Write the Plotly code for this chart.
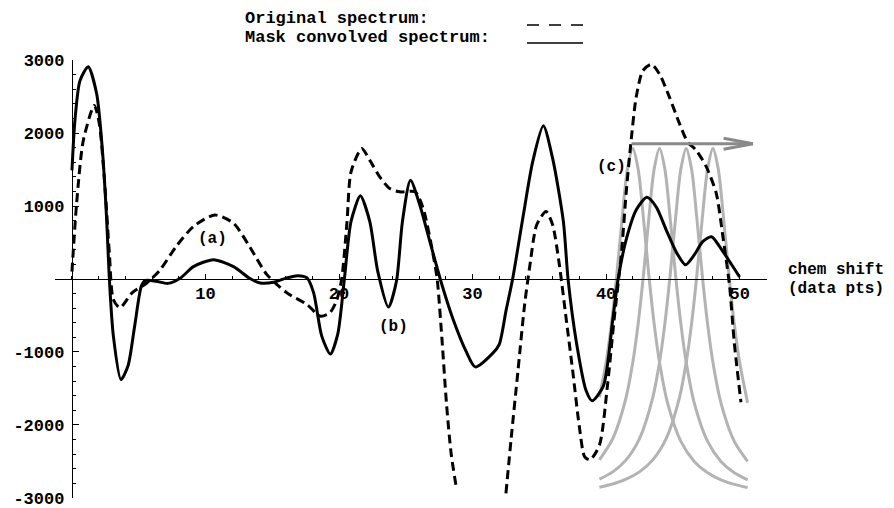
import plotly.graph_objects as go

# ---- data -------------------------------------------------------------
# mask convolved spectrum (solid black)
conv_x = [0, 0.22, 0.6, 1.22, 1.85, 2.3, 2.6, 2.8, 3.1, 3.67, 4.2, 4.7, 5.2, 5.5,
          6.3, 7.2, 8.1, 9.1, 10.6, 12.1, 13.3, 14.1, 15.1, 16.1, 16.9, 17.6,
          18.1, 18.7, 19.35, 19.9, 20.4, 20.9, 21.6, 22.3, 22.9, 23.7, 24.3,
          24.75, 25.35, 26.05, 26.8, 27.7, 28.5, 29.5, 30.2, 31.5, 32.0, 32.5,
          33.0, 33.8, 34.5, 35.3, 36.0, 36.8, 37.15, 37.8, 38.5, 38.95, 39.8,
          40.5, 40.9, 41.5, 42.25, 43.05, 43.75, 44.5, 45.3, 45.95, 46.6,
          47.25, 47.9, 48.5, 49.25, 50.0]
conv_y = [1490, 2170, 2720, 2910, 2540, 1720, 810, 0, -780, -1380, -1190, -640,
          -95, -20, -30, -60, 10, 170, 265, 170, 10, -55, -45, 15, 45, 15,
          -190, -780, -1030, -760, 0, 790, 1140, 790, 105, -385, -30,
          790, 1355, 1015, 515, -75, -530, -985, -1205, -1020, -895, -440,
          0, 875, 1605, 2100, 1650, 790, 0, -895, -1530, -1670, -1465,
          -555, 0, 535, 945, 1120, 990, 675, 355, 195, 330,
          515, 580, 445, 240, 27]

# original spectrum (dashed black); None = runs off the bottom of the frame
orig_x = [0, 0.35, 0.85, 1.67, 2.05, 2.47, 2.8, 3.1, 3.6, 4.5, 5.6, 6.6, 7.8,
          9.1, 10.7, 12.1, 13.3, 14.6, 16.1, 17.6, 18.6, 19.3, 19.8, 20.2,
          20.6, 20.9, 21.7, 22.3, 23.05, 23.8, 24.55, 25.7, 26.3, 27.05,
          27.35, 27.7, 28.05, 28.4, 28.8, None, 32.5, 32.9, 33.4, 33.9, 34.3,
          34.8, 35.5, 36.0, 36.5, 37.0, 37.5, 38.0, 38.4, 38.8, 39.5, 40.1,
          40.6, 41.15, 41.5, 41.85, 42.25, 42.75, 43.4, 44.0, 44.75, 45.5,
          46.1, 46.75, 47.5, 48.25, 48.75, 49.25, 49.6, 50.1]
orig_y = [100, 1040, 1900, 2380, 2130, 1265, 355, -280, -395, -190, -55, 125,
          445, 720, 877, 765, 445, 60, -190, -350, -510, -465, -305, 0,
          790, 1470, 1790, 1630, 1400, 1240, 1195, 1195, 970, 330,
          0, -805, -1715, -2400, -2875, None, -2940, -2170, -1260, -350, 195,
          740, 925, 740, 195, -530, -1260, -2030, -2440, -2480, -2280, -1465,
          -555, 355, 1175, 1855, 2490, 2855, 2945, 2810, 2490, 2130,
          1880, 1765, 1540, 1175, 580, -100, -875, -1690]

# mask line shape (offset from its centre -> value), shifted along the axis
mask_offsets = [-8.5, -7.5, -6.5, -5.5, -4.5, -3.5, -2.5, -2.0, -1.6, -1.2,
                -0.8, -0.4, 0, 0.4, 0.8, 1.2, 1.6, 2.0, 2.6, 3.6, 4.6, 5.6,
                6.6, 7.6, 8.6]
mask_values = [-2855, -2811, -2745, -2645, -2480, -2189, -1622, -1143, -615, 58,
               828, 1507, 1790, 1507, 828, 58, -615, -1143, -1699, -2227,
               -2501, -2657, -2753, -2816, -2859]
mask_centers = [42, 44, 46, 48]
mask_span = (39.5, 50.6)

# arrow showing the mask being slid along the spectrum
arrow_x_start, arrow_x_end, arrow_y = 41.9, 51.0, 1855

x_ticks = [10, 20, 30, 40, 50]
x_tick_text = ["10", "20", "30", "40", "50"]
y_ticks = [-3000, -2000, -1000, 1000, 2000, 3000]
y_tick_text = ["-3000", "-2000", "-1000", "1000", "2000", "3000"]

# ---- figure -----------------------------------------------------------
W, H = 894, 508
FONT = "Liberation Mono"
GREY = "#b3b3b3"

fig = go.Figure()

for c in mask_centers:
    pts = [(c + d, v) for d, v in zip(mask_offsets, mask_values)
           if mask_span[0] - 1e-9 <= c + d <= mask_span[1] + 1e-9]
    fig.add_trace(go.Scatter(
        x=[p[0] for p in pts], y=[p[1] for p in pts], mode="lines",
        line=dict(color=GREY, width=3, shape="spline", smoothing=0.8),
        hoverinfo="skip", showlegend=False))

fig.add_trace(go.Scatter(
    x=orig_x, y=orig_y, mode="lines", name="Original spectrum",
    line=dict(color="black", width=3, dash="9px,5px", shape="spline", smoothing=0.7),
    connectgaps=False, showlegend=False))

fig.add_trace(go.Scatter(
    x=conv_x, y=conv_y, mode="lines", name="Mask convolved spectrum",
    line=dict(color="black", width=3, shape="spline", smoothing=0.7),
    showlegend=False))

# pixel layout of the frame
x_left_px, x_right_px = 55, 767
y_top_px, y_bot_px = 60, 498
x_range = [-1.27, 52.05]
y_range = [-3003, 3003]
zero_px = (y_top_px + y_bot_px) / 2

axis_font = dict(family=FONT, size=17, color="black", weight="bold")

fig.update_layout(
    width=W, height=H,
    margin=dict(l=0, r=0, t=0, b=0),
    paper_bgcolor="white", plot_bgcolor="white",
    showlegend=False,
    xaxis=dict(
        domain=[x_left_px / W, x_right_px / W], range=x_range,
        anchor="free", position=(H - zero_px) / H,
        showgrid=False, zeroline=False, showline=True,
        linecolor="black", linewidth=1.3,
        tickmode="array", tickvals=x_ticks, ticktext=x_tick_text,
        ticks="inside", ticklen=5, tickwidth=1, tickcolor="black",
        tickfont=axis_font, ticklabelstandoff=-2,
        minor=dict(tickmode="linear", tick0=0, dtick=2, ticks="inside",
                   ticklen=3, tickwidth=1, tickcolor="black"),
        automargin=False,
    ),
    yaxis=dict(
        domain=[(H - y_bot_px) / H, (H - y_top_px) / H], range=y_range,
        anchor="free", position=72 / W,
        showgrid=False, zeroline=False, showline=True,
        linecolor="black", linewidth=1.3,
        tickmode="array", tickvals=y_ticks, ticktext=y_tick_text,
        ticks="inside", ticklen=6, tickwidth=1, tickcolor="black",
        tickfont=axis_font, ticklabelstandoff=4, ticklabeloverflow="allow",
        minor=dict(tickmode="linear", tick0=0, dtick=200, ticks="inside",
                   ticklen=3, tickwidth=1, tickcolor="black"),
        automargin=False,
    ),
)

# arrow: shaft and open head
head_dx, head_dy = 2.2, 75
arrow_style = dict(color="#8a8a8a", width=3)
fig.add_shape(type="line", xref="x", yref="y", x0=arrow_x_start, x1=arrow_x_end,
              y0=arrow_y, y1=arrow_y, line=arrow_style)
for s in (1, -1):
    fig.add_shape(type="line", xref="x", yref="y",
                  x0=arrow_x_end - head_dx, y0=arrow_y + s * head_dy,
                  x1=arrow_x_end, y1=arrow_y, line=arrow_style)

label_font = dict(family=FONT, size=16, color="black", weight="bold")
for txt, lx, ly in [("(a)", 10.55, 545), ("(b)", 24.05, -660), ("(c)", 40.4, 1535)]:
    fig.add_annotation(x=lx, y=ly, xref="x", yref="y", text=txt, showarrow=False,
                       font=label_font, xanchor="center", yanchor="middle")

# axis caption
cap_font = dict(family=FONT, size=16, color="black", weight="bold")
for txt, py in [("chem shift", zero_px - 9), ("(data pts)", zero_px + 10)]:
    fig.add_annotation(x=786 / W, y=1 - py / H, xref="paper", yref="paper",
                       text=txt, showarrow=False, font=cap_font,
                       xanchor="left", yanchor="middle")

# key
key_font = dict(family=FONT, size=17, color="black", weight="bold")
for txt, py in [("Original spectrum:", 18), ("Mask convolved spectrum:", 38)]:
    fig.add_annotation(x=243 / W, y=1 - py / H, xref="paper", yref="paper",
                       text=txt, showarrow=False, font=key_font,
                       xanchor="left", yanchor="middle")
fig.add_shape(type="line", xref="paper", yref="paper",
              x0=527 / W, x1=583 / W, y0=1 - 25 / H, y1=1 - 25 / H,
              line=dict(color="black", width=1.3, dash="12px,10px"))
fig.add_shape(type="line", xref="paper", yref="paper",
              x0=527 / W, x1=583 / W, y0=1 - 43 / H, y1=1 - 43 / H,
              line=dict(color="black", width=1.3))

fig.write_html("out.html")
